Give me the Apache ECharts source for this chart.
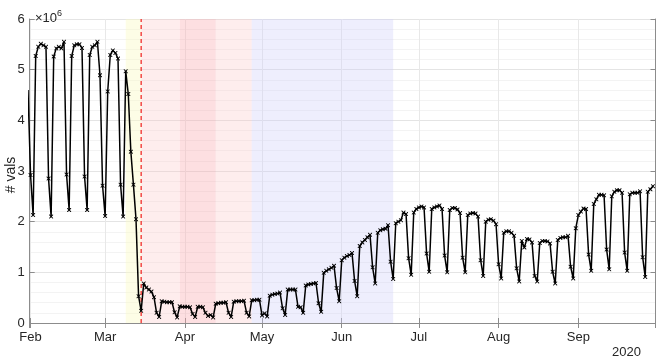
<!DOCTYPE html>
<html>
<head>
<meta charset="utf-8">
<script src="https://cdn.jsdelivr.net/npm/echarts@6/dist/echarts.min.js"></script>
<style>
  html, body { margin: 0; padding: 0; background: #fff; }
  #chart { width: 657px; height: 361px; }
</style>
</head>
<body>
<div id="chart"></div>
<script>
  // daily values (millions), one entry per day starting 2020-01-31
  const jan = [4.6]
  const feb = [2.92, 2.13, 5.27, 5.45, 5.51, 5.48, 5.45,
    2.85, 2.10, 5.26, 5.42, 5.45, 5.42, 5.55,
    2.93, 2.23, 5.27, 5.48, 5.50, 5.50, 5.43,
    2.89, 2.23, 5.29, 5.45, 5.48, 5.55, 4.89,
    2.71]
  const mar = [2.11, 4.57, 5.29, 5.38, 5.33, 5.22, 2.73,
    2.10, 4.97, 4.52, 3.38, 2.73, 2.05, 0.53,
    0.24, 0.78, 0.70, 0.66, 0.62, 0.51, 0.20,
    0.12, 0.43, 0.42, 0.41, 0.41, 0.41, 0.21,
    0.11, 0.33, 0.32]
  const apr = [0.32, 0.32, 0.31, 0.18, 0.12, 0.32, 0.32,
    0.31, 0.20, 0.14, 0.16, 0.11, 0.38, 0.39,
    0.40, 0.40, 0.41, 0.20, 0.12, 0.42, 0.43,
    0.43, 0.43, 0.44, 0.20, 0.13, 0.45, 0.45,
    0.46, 0.46]
  const may = [0.15, 0.19, 0.13, 0.54, 0.56, 0.57, 0.58,
    0.60, 0.29, 0.16, 0.66, 0.66, 0.66, 0.66,
    0.32, 0.31, 0.20, 0.74, 0.76, 0.77, 0.78,
    0.79, 0.39, 0.22, 0.99, 1.03, 1.06, 1.09,
    1.13, 0.69, 0.43]
  const jun = [1.24, 1.29, 1.32, 1.34, 1.38, 0.83, 0.53,
    1.52, 1.59, 1.64, 1.69, 1.74, 1.10, 0.78,
    1.78, 1.83, 1.85, 1.86, 1.93, 1.21, 0.87,
    1.97, 2.00, 2.03, 2.18, 2.15, 1.28, 0.95,
    2.18, 2.25]
  const jul = [2.28, 2.30, 2.28, 1.37, 1.01, 2.25, 2.28,
    2.30, 2.32, 2.25, 1.33, 1.00, 2.23, 2.27,
    2.27, 2.24, 2.17, 1.29, 1.00, 2.13, 2.16,
    2.17, 2.16, 2.10, 1.24, 0.93, 2.00, 2.04,
    2.05, 2.02, 1.95]
  const aug = [1.16, 0.88, 1.78, 1.81, 1.81, 1.78, 1.72,
    1.08, 0.82, 1.62, 1.49, 1.66, 1.65, 1.59,
    0.93, 0.82, 1.58, 1.62, 1.62, 1.61, 1.57,
    1.01, 0.78, 1.64, 1.68, 1.69, 1.69, 1.72,
    1.11, 0.88, 1.87]
  const sep = [2.13, 2.20, 2.26, 2.25, 1.35, 1.03, 2.35,
    2.44, 2.53, 2.53, 2.52, 1.45, 1.06, 2.50,
    2.59, 2.62, 2.62, 2.57, 1.39, 1.03, 2.54,
    2.57, 2.57, 2.57, 2.60, 1.30, 0.91, 2.59,
    2.64, 2.70]

  const monthLabels = ['Jan', 'Feb', 'Mar', 'Apr', 'May', 'Jun', 'Jul', 'Aug', 'Sep', 'Oct', 'Nov', 'Dec']
  const yearLabel = '2020'
  const yName = '# vals'

  // shaded periods [start, end, colour]
  const periods = [
    [new Date(2020, 2, 9), new Date(2020, 2, 15), 'rgba(250,250,200,0.45)'],
    [new Date(2020, 2, 15), new Date(2020, 2, 30), 'rgba(252,200,200,0.32)'],
    [new Date(2020, 2, 30), new Date(2020, 3, 13), 'rgba(250,170,175,0.38)'],
    [new Date(2020, 3, 13), new Date(2020, 3, 27), 'rgba(252,200,200,0.32)'],
    [new Date(2020, 3, 27), new Date(2020, 5, 21), 'rgba(205,205,250,0.35)']
  ]
  const eventDay = new Date(2020, 2, 15).getTime()

  const values = [].concat(jan, feb, mar, apr, may, jun, jul, aug, sep)
  const seriesData = values.map((v, i) => [new Date(2020, 0, 31 + i).getTime(), v])

  const xMin = new Date(2020, 0, 31, 16).getTime()
  const xMax = new Date(2020, 9, 1).getTime()

  const labelColor = '#262626'
  const axisColor = '#8c8c8c'
  const font = 'Liberation Sans, Arial, sans-serif'

  const crossMark = 'path://M0,0 L1.6,0 L5,3.4 L8.4,0 L10,0 L10,1.6 L6.6,5 L10,8.4 L10,10 L8.4,10 L5,6.6 L1.6,10 L0,10 L0,8.4 L3.4,5 L0,1.6 Z'

  function monthLabel (value) {
    let d = new Date(value)
    if (d.getDate() !== 1 || d.getHours() !== 0) return ''
    return monthLabels[d.getMonth()]
  }

  const chart = echarts.init(document.getElementById('chart'))
  const options = {
    animation: false,
    title: {
      text: '{a|×10}{b|6}',
      left: 30,
      top: 1,
      textStyle: {
        fontWeight: 'normal',
        rich: {
          a: { fontSize: 13, fontWeight: 'normal', color: labelColor, fontFamily: font, padding: [6, 0, 0, 0] },
          b: { fontSize: 9, fontWeight: 'normal', color: labelColor, fontFamily: font, padding: [0, 0, 4, 0] }
        }
      }
    },
    graphic: [
      {
        type: 'text',
        right: 16,
        bottom: 2,
        style: { text: yearLabel, fontSize: 13, fill: labelColor, fontFamily: font }
      },
      {
        type: 'text',
        x: 11,
        y: 175,
        rotation: Math.PI / 2,
        style: { text: yName, fontSize: 14, fill: labelColor, fontFamily: font, align: 'center', verticalAlign: 'middle' }
      }
    ],
    grid: {
      left: 29.7,
      right: 1.5,
      top: 19,
      bottom: 38,
      containLabel: false,
      outerBoundsMode: 'none'
    },
    xAxis: [
      {
        type: 'time',
        min: xMin,
        max: xMax,
        splitNumber: 8,
        axisLine: { show: true, lineStyle: { color: axisColor, width: 1 } },
        axisTick: { show: true, inside: true, length: 5, lineStyle: { color: axisColor } },
        axisLabel: {
          formatter: monthLabel,
          color: labelColor,
          fontSize: 13,
          fontFamily: font,
          margin: 8,
          hideOverlap: false
        },
        splitLine: { show: true, lineStyle: { color: '#e8e8e8', width: 1 } },
        minorTick: { show: false }
      },
      {
        type: 'time',
        position: 'top',
        min: xMin,
        max: xMax,
        splitNumber: 8,
        axisLine: { show: true, lineStyle: { color: axisColor, width: 1 } },
        axisTick: { show: true, inside: true, length: 5, lineStyle: { color: axisColor } },
        axisLabel: { show: false },
        splitLine: { show: false }
      }
    ],
    yAxis: [
      {
        type: 'value',
        min: 0,
        max: 6,
        interval: 1,
        axisLine: { show: true, lineStyle: { color: axisColor, width: 1 } },
        axisTick: { show: true, inside: true, length: 5, lineStyle: { color: axisColor } },
        axisLabel: { color: labelColor, fontSize: 13, fontFamily: font, margin: 5 },
        splitLine: { show: true, lineStyle: { color: '#e4e4e4', width: 1 } },
        minorTick: { show: false, splitNumber: 5 },
        minorSplitLine: { show: true, lineStyle: { color: '#f3f3f3', width: 1 } }
      },
      {
        type: 'value',
        position: 'right',
        min: 0,
        max: 6,
        interval: 1,
        axisLine: { show: true, lineStyle: { color: axisColor, width: 1 } },
        axisTick: { show: true, inside: true, length: 5, lineStyle: { color: axisColor } },
        axisLabel: { show: false },
        splitLine: { show: false }
      }
    ],
    series: [
      {
        name: 'periods',
        type: 'line',
        data: [],
        z: 1,
        silent: true,
        markArea: {
          silent: true,
          data: periods.map((p) => {
            return [{ xAxis: p[0].getTime(), itemStyle: { color: p[2] } }, { xAxis: p[1].getTime() }]
          })
        }
      },
      {
        name: 'event',
        type: 'line',
        z: 2,
        silent: true,
        symbol: 'none',
        data: [[eventDay, 0], [eventDay, 6]],
        lineStyle: { color: '#f01c1c', type: [4, 3], width: 1.2 }
      },
      {
        name: 'vals',
        type: 'line',
        z: 3,
        data: seriesData,
        symbol: crossMark,
        symbolSize: 4,
        showSymbol: true,
        showAllSymbol: true,
        clip: true,
        itemStyle: { color: '#000' },
        lineStyle: { color: '#000', width: 1.5 }
      }
    ]
  }
  chart.setOption(options)
</script>
</body>
</html>
